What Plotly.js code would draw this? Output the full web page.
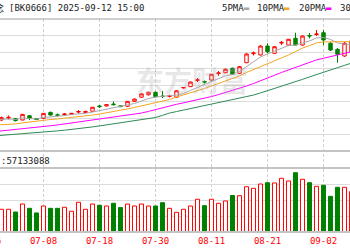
<!DOCTYPE html>
<html><head><meta charset="utf-8">
<script src="https://cdn.plot.ly/plotly-3.0.1.min.js"></script>
<style>html,body{margin:0;padding:0;background:#fff;overflow:hidden}#chart{width:350px;height:250px}</style>
</head><body><div id="chart"></div>
<script>
// ---------- data ----------
const dates = ['06-26','06-27','06-30','07-01','07-02','07-03','07-04','07-07','07-08','07-09','07-10','07-11','07-14','07-15','07-16','07-17','07-18','07-21','07-22','07-23','07-24','07-25','07-28','07-29','07-30','07-31','08-01','08-04','08-05','08-06','08-07','08-08','08-11','08-12','08-13','08-14','08-15','08-18','08-19','08-20','08-21','08-22','08-25','08-26','08-27','08-28','08-29','09-01','09-02','09-03','09-04','09-05','09-08'];
const openP  = [1185,1195,1188,1200,1196,1188,1214,1197,1198,1234,1219,1221,1222,1236,1233,1241,1273,1273,1285,1274,1271,1301,1326,1341,1356,1333,1331,1326,1382,1390,1428,1421,1430,1469,1474,1501,1471,1535,1590,1582,1636,1592,1654,1642,1683,1642,1700,1706,1717,1653,1616,1576,1600];
const highP  = [1200,1203,1209,1215,1200,1224,1218,1200,1230,1239,1227,1230,1230,1248,1245,1267,1279,1282,1300,1276,1303,1318,1349,1358,1361,1364,1342,1368,1388,1421,1442,1427,1467,1485,1500,1506,1515,1592,1603,1642,1653,1636,1667,1679,1717,1700,1715,1733,1733,1661,1624,1661,1685];
const lowP   = [1178,1183,1182,1191,1179,1185,1188,1188,1194,1215,1209,1212,1218,1227,1230,1236,1261,1270,1276,1267,1267,1297,1321,1336,1324,1321,1324,1324,1379,1388,1418,1409,1427,1455,1473,1461,1467,1533,1579,1579,1592,1588,1642,1639,1639,1639,1682,1697,1642,1606,1535,1570,1588];
const closeP = [1195,1190,1202,1204,1184,1222,1198,1191,1228,1218,1216,1224,1228,1239,1239,1265,1269,1281,1281,1269,1301,1315,1346,1356,1329,1330,1335,1365,1385,1418,1431,1418,1465,1473,1495,1465,1511,1588,1594,1636,1602,1632,1658,1677,1642,1697,1697,1709,1673,1612,1586,1653,1668];
const volume = [30000000,27500000,28400000,28400000,25000000,35000000,29600000,23800000,32500000,29600000,29600000,30900000,25900000,37100000,28400000,35000000,33400000,32500000,35900000,30500000,35000000,32500000,35000000,32500000,32500000,36600000,29600000,24600000,28400000,32500000,40900000,32900000,40900000,35900000,38800000,45600000,45400000,56600000,54600000,60000000,61600000,61300000,67100000,63800000,74100000,65900000,61600000,57100000,58400000,44600000,55900000,55900000,50400000];
const ma5  = [1188,1190,1191,1194,1191,1200,1197,1194,1203,1206,1209,1215,1221,1224,1229,1236,1245,1255,1264,1270,1279,1288,1303,1318,1327,1333,1336,1339,1348,1367,1385,1403,1424,1439,1455,1464,1482,1512,1539,1570,1588,1606,1624,1639,1642,1655,1667,1685,1688,1676,1655,1648,1645];
const ma10 = [1154,1156,1159,1161,1164,1170,1176,1182,1188,1191,1194,1198,1203,1207,1212,1218,1224,1231,1239,1245,1255,1264,1273,1282,1291,1300,1312,1327,1339,1352,1365,1379,1394,1409,1424,1439,1455,1476,1494,1512,1527,1544,1564,1582,1603,1624,1639,1655,1661,1662,1662,1663,1663];
const ma20 = [1113,1117,1121,1125,1129,1133,1137,1142,1147,1153,1158,1164,1169,1174,1180,1186,1192,1198,1204,1210,1215,1221,1230,1240,1251,1264,1274,1283,1292,1301,1310,1319,1330,1342,1355,1367,1378,1394,1409,1427,1442,1459,1476,1492,1507,1524,1539,1552,1562,1572,1582,1592,1602];
const ma30 = [1088,1091,1094,1097,1100,1103,1106,1109,1113,1118,1122,1126,1130,1136,1141,1146,1152,1158,1164,1170,1176,1182,1188,1195,1203,1216,1230,1239,1248,1258,1267,1276,1285,1294,1302,1310,1318,1328,1339,1352,1365,1379,1393,1406,1420,1434,1449,1462,1477,1491,1505,1519,1533];
const titleCut = '概念';
const titleText = '[BK0666] 2025-09-12 15:00';
const maNames = ['5PMA','10PMA','20PMA','30PMA'];
const volLabel = ':57133088';
const watermark = '东方财富';

// ---------- styling / geometry ----------
const W = 350, H = 250;
const MONO = 'DejaVu Sans Mono, Noto Sans CJK SC, monospace';
const RED = '#ff0000', GREEN = '#008000', GRID = '#dcdcdc';
const maColors = ['#a8a8a8', '#f5a623', '#ff00ff', '#2e8b57'];
const py = p => 1 - p / H;          // pixel row -> paper y
const xRange = [1.7857, 51.7857];
const idx = dates.map((d, i) => i);
const tickIdx = idx.filter(i => i % 8 === 0);
const xPaper = i => (i - xRange[0]) / (xRange[1] - xRange[0]);

const up = idx.map(i => closeP[i] >= openP[i]);

const traces = [
  {type:'candlestick', x: idx, open: openP, high: highP, low: lowP, close: closeP,
   xaxis:'x2', yaxis:'y', whiskerwidth:0, hoverinfo:'skip', showlegend:false,
   increasing:{line:{color:RED, width:1}, fillcolor:'#ffffff'},
   decreasing:{line:{color:GREEN, width:1}, fillcolor:GREEN}},
];
[ma5, ma10, ma20, ma30].forEach((m, k) => traces.push({
  type:'scatter', mode:'lines', x: idx, y: m, xaxis:'x2', yaxis:'y',
  line:{color: maColors[k], width:1}, hoverinfo:'skip', showlegend:false
}));
traces.push({
  type:'bar', x: idx, y: volume, xaxis:'x', yaxis:'y2', width:0.58,
  marker:{color: up.map(u => u ? '#ffffff' : GREEN),
          line:{color: up.map(u => u ? RED : GREEN), width:1}},
  hoverinfo:'skip', showlegend:false
});

const shapes = [];
tickIdx.forEach(i => shapes.push({type:'line', xref:'x', yref:'paper', x0:i, x1:i,
  y0: py(232), y1: py(19), line:{color:'#cfcfcf', width:1, dash:'3px,2px'}, layer:'below'}));
[[19,'#a0a0a0',1],[151,'#c4c4c4',2],[168,'#c4c4c4',2],[232,'#c4c4c4',2]].forEach(([p,c,w]) =>
  shapes.push({type:'line', xref:'paper', yref:'paper', x0:0, x1:1, y0:py(p), y1:py(p),
    line:{color:c, width:w}, layer:'above'}));

const annotations = [
  {xref:'paper', yref:'paper', x: 6/W, y: py(7.5), xanchor:'right', yanchor:'middle',
   text: titleCut, showarrow:false, font:{family:MONO, size:10, color:'#222'}},
  {xref:'paper', yref:'paper', x: 6.5/W, y: py(7.5), xanchor:'left', yanchor:'middle',
   text: titleText, showarrow:false, font:{family:MONO, size:9, color:'#222'}},
  {xref:'paper', yref:'paper', x: -1.5/W, y: py(161), xanchor:'left', yanchor:'middle',
   text: volLabel, showarrow:false, font:{family:MONO, size:9, color:'#222'}},
  {xref:'paper', yref:'paper', x: 192/W, y: py(80), xanchor:'center', yanchor:'middle',
   text: watermark, showarrow:false,
   font:{family:'Noto Sans CJK SC', size:28, color:'rgba(170,170,170,0.28)', weight:700}},
  {xref:'paper', yref:'paper', x: xPaper(0), y: py(241), xanchor:'center', yanchor:'middle',
   text: dates[0], showarrow:false, font:{family:MONO, size:9, color:RED}},
];
const legendX = [220, 255, 297, 338];
maNames.forEach((n, k) => annotations.push({
  xref:'paper', yref:'paper', x: legendX[k]/W, y: py(7.5), xanchor:'left', yanchor:'middle',
  text: n + '<span style="color:' + maColors[k] + '">▬</span>', showarrow:false,
  font:{family:MONO, size:9, color:'#222'}
}));

const layout = {
  width: W, height: H, margin:{l:0, r:0, t:0, b:0}, autosize:false,
  paper_bgcolor:'#ffffff', plot_bgcolor:'#ffffff', showlegend:false,
  xaxis:{domain:[0,1], anchor:'y2', range: xRange, tickmode:'array', tickvals: tickIdx,
         ticktext: tickIdx.map(i => dates[i]), tickfont:{family:MONO, size:9, color:RED},
         ticks:'', ticklabelstandoff:2, showgrid:false, zeroline:false, showline:false,
         rangeslider:{visible:false}, fixedrange:true},
  xaxis2:{domain:[0,1], anchor:'y', range: xRange, showticklabels:false, ticks:'',
          showgrid:false, zeroline:false, showline:false, rangeslider:{visible:false}},
  yaxis:{domain:[py(151), py(19)], range:[1000,1800], tickmode:'linear', tick0:1000, dtick:100,
         showticklabels:false, ticks:'', gridcolor: GRID, gridwidth:1, zeroline:false, showline:false},
  yaxis2:{domain:[py(232), py(168)], range:[0,80000000], tickmode:'linear', tick0:0, dtick:20000000,
          showticklabels:false, ticks:'', gridcolor: GRID, gridwidth:1, zeroline:false, showline:false},
  shapes, annotations
};
Plotly.newPlot('chart', traces, layout, {staticPlot:true, displayModeBar:false});
</script></body></html>
